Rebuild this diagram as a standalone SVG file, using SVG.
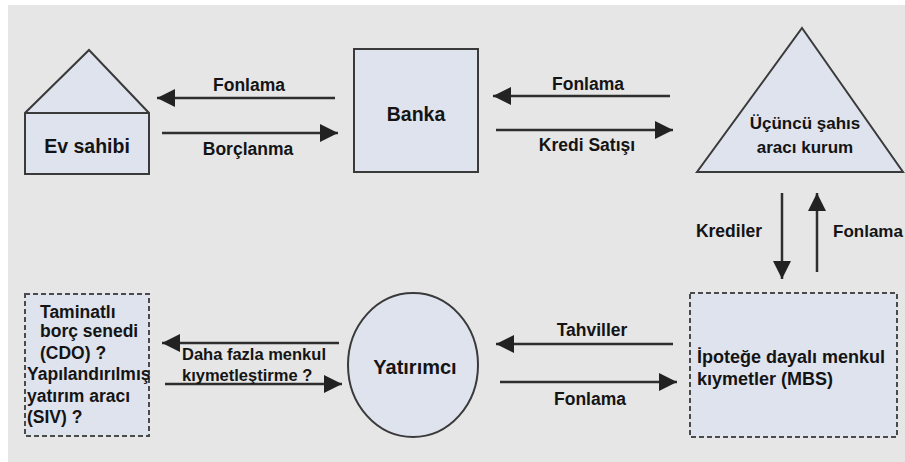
<svg xmlns="http://www.w3.org/2000/svg" width="905" height="462" viewBox="0 0 905 462">
<style>
  .node { fill: #dfe3ee; stroke: #3a3a3a; stroke-width: 2; }
  .dash { fill: #dfe3ee; stroke: #4a4a4a; stroke-width: 2; stroke-dasharray: 5 3; }
  .t { font-family: "Liberation Sans", Arial, sans-serif; font-weight: bold; fill: #141414; }
  .nl { font-size: 19.5px; text-anchor: middle; }
  .al { font-size: 17.5px; text-anchor: middle; }
  .conn line { stroke: #2e2e2e; stroke-width: 2.5; marker-end: url(#ah); }
</style>
<defs>
  <marker id="ah" markerUnits="userSpaceOnUse" markerWidth="18" markerHeight="18" refX="18" refY="9" orient="auto">
    <path d="M0,0 L18,9 L0,18 Z" fill="#222"/>
  </marker>
</defs>
<rect x="0" y="0" width="905" height="462" fill="#ffffff"/>
<rect x="8" y="5" width="897" height="457" fill="#e6e6e7"/>

<g id="ev-sahibi">
  <polygon class="node" points="89,50 149,113 149,174 25,174 25,113"/>
  <line x1="25" y1="113" x2="149" y2="113" stroke="#3a3a3a" stroke-width="2"/>
  <text class="t nl" x="87" y="153">Ev sahibi</text>
</g>

<g id="banka">
  <rect class="node" x="354" y="49" width="124" height="123"/>
  <text class="t nl" x="416" y="121">Banka</text>
</g>

<g id="ucuncu-sahis">
  <polygon class="node" points="802,28 903,172 697,172"/>
  <text class="t" font-size="17" text-anchor="middle" x="805" y="129">Üçüncü şahıs</text>
  <text class="t" font-size="17" text-anchor="middle" x="805" y="153">aracı kurum</text>
</g>

<g id="mbs">
  <rect class="dash" x="690" y="293" width="207" height="144"/>
  <text class="t" font-size="18" x="697" y="363">İpoteğe dayalı menkul</text>
  <text class="t" font-size="18" x="697" y="385">kıymetler (MBS)</text>
</g>

<g id="yatirimci">
  <ellipse class="node" cx="413" cy="365" rx="65" ry="72"/>
  <text class="t" font-size="20" text-anchor="middle" x="415" y="374">Yatırımcı</text>
</g>

<g id="cdo-siv">
  <rect class="dash" x="25" y="294" width="124" height="142"/>
  <g class="t" font-size="17.5">
    <text x="40" y="318">Taminatlı</text>
    <text x="40" y="337">borç senedi</text>
    <text x="40" y="359">(CDO) ?</text>
    <text x="27" y="380">Yapılandırılmış</text>
    <text x="27" y="402">yatırım aracı</text>
    <text x="27" y="423">(SIV) ?</text>
  </g>
</g>

<g id="connectors" class="conn">
  <line x1="335" y1="98" x2="157" y2="98"/>
  <line x1="162" y1="133" x2="338" y2="133"/>
  <line x1="670" y1="96" x2="493" y2="96"/>
  <line x1="496" y1="130" x2="673" y2="130"/>
  <line x1="782" y1="193" x2="782" y2="279"/>
  <line x1="817" y1="272" x2="817" y2="193"/>
  <line x1="673" y1="344" x2="496" y2="344"/>
  <line x1="500" y1="382" x2="677" y2="382"/>
  <line x1="339" y1="343" x2="162" y2="343"/>
  <line x1="165" y1="384" x2="342" y2="384"/>
</g>

<g id="connector-labels" class="t">
  <text class="al" x="249" y="91">Fonlama</text>
  <text class="al" x="248" y="155">Borçlanma</text>
  <text class="al" x="588" y="90">Fonlama</text>
  <text class="al" x="587" y="151">Kredi Satışı</text>
  <text class="al" x="729" y="237">Krediler</text>
  <text font-size="17" x="833" y="237">Fonlama</text>
  <text class="al" x="592" y="336">Tahviller</text>
  <text class="al" x="590" y="405">Fonlama</text>
  <text font-size="16.5" x="182" y="360">Daha fazla menkul</text>
  <text font-size="16.5" x="182" y="381">kıymetleştirme ?</text>
</g>
</svg>
